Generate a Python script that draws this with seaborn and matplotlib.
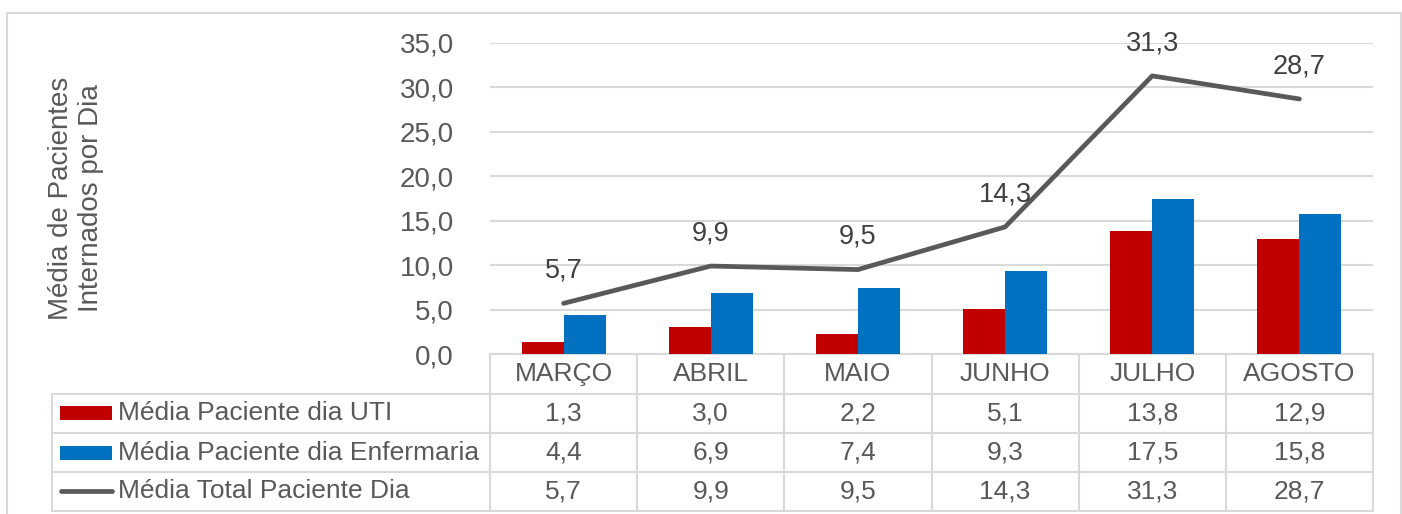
import numpy as np
import pandas as pd
import matplotlib
matplotlib.use("Agg")
import matplotlib.pyplot as plt
import matplotlib.transforms as mtransforms
import seaborn as sns

meses = ["MARÇO", "ABRIL", "MAIO", "JUNHO", "JULHO", "AGOSTO"]
uti = [1.3, 3.0, 2.2, 5.1, 13.8, 12.9]
enfermaria = [4.4, 6.9, 7.4, 9.3, 17.5, 15.8]
total = [5.7, 9.9, 9.5, 14.3, 31.3, 28.7]
series_names = ["Média Paciente dia UTI", "Média Paciente dia Enfermaria", "Média Total Paciente Dia"]
yticks = [0, 5, 10, 15, 20, 25, 30, 35]

RED = "#C00000"
BLUE = "#0070C0"
GRAY = "#595959"
GRID = "#D9D9D9"
TXT = "#595959"

sns.set_theme(style="white")
plt.rcParams["font.family"] = ["Liberation Sans", "DejaVu Sans"]

W, H = 1402, 514
fig = plt.figure(figsize=(W / 100, H / 100), dpi=100)

# overlay axes in pixel coords (y downward)
ov = fig.add_axes([0, 0, 1, 1])
ov.set_xlim(0, W)
ov.set_ylim(H, 0)
ov.axis("off")

x0, x1, ytop, ybot = 490, 1373, 43, 354
ax = fig.add_axes([x0 / W, (H - ybot) / H, (x1 - x0) / W, (ybot - ytop) / H])
ax.patch.set_alpha(0)

df = pd.DataFrame({
    "mes": meses * 2,
    "valor": uti + enfermaria,
    "serie": [series_names[0]] * 6 + [series_names[1]] * 6,
})
sns.barplot(data=df, x="mes", y="valor", hue="serie", palette=[RED, BLUE],
            width=0.57, saturation=1, legend=False, ax=ax, zorder=3,
            linewidth=0)
xs = np.arange(len(meses))
ax.plot(xs, total, color=GRAY, lw=3.4, zorder=4, solid_capstyle="round",
        solid_joinstyle="round")
for xi, v in zip(xs, total):
    ax.annotate(f"{v:.1f}".replace(".", ","), (xi, v), xytext=(0, 23.5),
                textcoords="offset points", ha="center", va="center",
                fontsize=19.5, color="#404040", zorder=5)

ax.set_xlim(-0.5, len(meses) - 0.5)
ax.set_ylim(0, 35)
ax.set_yticks(yticks)
ax.set_yticklabels([f"{t:.1f}".replace(".", ",") for t in yticks],
                   fontsize=20, color=TXT)
ax.tick_params(axis="y", length=0, pad=26)
ax.set_xticks([])
ax.set_xlabel("")
ax.set_ylabel("")
ax.grid(axis="y", color=GRID, lw=1.5, zorder=0)
for s in ax.spines.values():
    s.set_visible(False)

# outer frame
ov.plot([7, 1401], [13, 13], color=GRID, lw=1.5)
ov.plot([7, 7], [13, H], color=GRID, lw=1.5)
ov.plot([1401, 1401], [13, H], color=GRID, lw=1.5)

# y label
fig.text(76 / W, 1 - 198 / H, "Média de Pacientes\nInternados por Dia", rotation=90,
         ha="center", va="center", multialignment="center", fontsize=20,
         color=TXT, linespacing=1.15)

# data table
bt = mtransforms.blended_transform_factory(ax.transData, ov.transData)
rows = [354, 394, 433, 472, 511]
tlw = 1.5
for i in range(len(meses) + 1):
    ax.plot([i - 0.5, i - 0.5], [354, 511], transform=bt, color=GRID, lw=tlw,
            clip_on=False)
ax.plot([-0.5, len(meses) - 0.5], [354, 354], transform=bt, color=GRID, lw=tlw,
        clip_on=False)
for r in rows[1:]:
    ov.plot([52, x1], [r, r], color=GRID, lw=tlw)
ov.plot([52, 52], [394, 511], color=GRID, lw=tlw)

for i, m in enumerate(meses):
    ax.text(i, 374, m, transform=bt, ha="center", va="center", fontsize=19,
            color=TXT, clip_on=False)
table_vals = [uti, enfermaria, total]
for r, vals in enumerate(table_vals):
    yc = (rows[r + 1] + rows[r + 2]) / 2
    for i, v in enumerate(vals):
        ax.text(i, yc, f"{v:.1f}".replace(".", ","), transform=bt, ha="center",
                va="center", fontsize=19, color=TXT, clip_on=False)

# legend keys
ov.add_patch(plt.Rectangle((60, 406), 52, 14, color=RED, lw=0))
ov.add_patch(plt.Rectangle((60, 446), 52, 14, color=BLUE, lw=0))
ov.plot([61, 112], [491, 491], color=GRAY, lw=3.4, solid_capstyle="round")
for r, name in enumerate(series_names):
    yc = (rows[r + 1] + rows[r + 2]) / 2
    ov.text(118, yc, name, ha="left", va="center", fontsize=19, color=TXT)

fig.savefig("out.png", dpi=100, facecolor="white")
